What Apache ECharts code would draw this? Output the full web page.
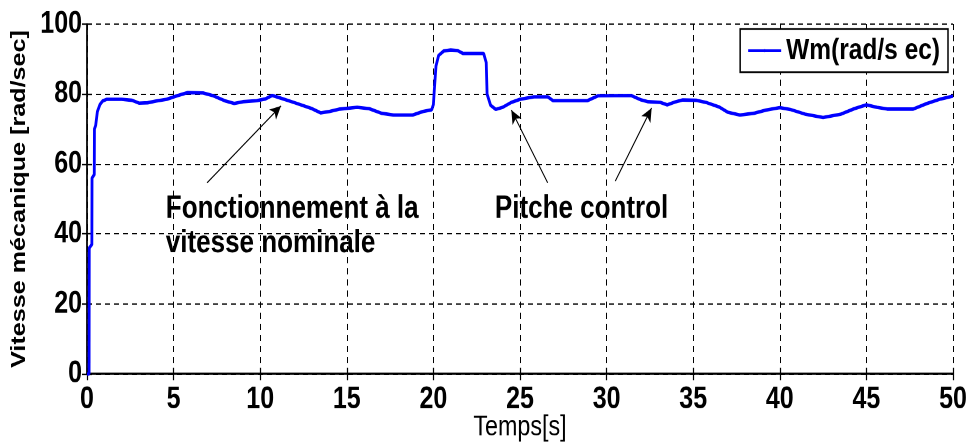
<!DOCTYPE html>
<html>
<head>
<meta charset="utf-8">
<script src="https://cdn.jsdelivr.net/npm/echarts@6/dist/echarts.min.js"></script>
<style>
  html, body { margin: 0; padding: 0; background: #fff; }
  #wrap { width: 972px; height: 444px; overflow: hidden; background: #fff; }
  /* the figure is laid out at 972x360 and stretched to the full 444px height */
  #chart { width: 972px; height: 360px; transform: scaleY(1.233333); transform-origin: 0 0; }
</style>
</head>
<body>
<div id="wrap"><div id="chart"></div></div>
<script>
// Mechanical speed of the turbine shaft over time
const timeS = [0, 0.12, 0.13, 0.28, 0.29, 0.42, 0.43, 0.5, 0.6, 0.75, 0.9, 1.15, 2.0, 2.6, 3.0, 3.5, 4.0, 4.6, 5.2, 5.8,
  6.7, 7.3, 8.0, 8.5, 9.0, 9.8, 10.3, 10.7, 11.2, 12.0, 13.0, 13.5, 14.0, 14.6, 15.6, 16.3, 17.0, 17.7, 18.8, 19.4,
  19.9, 20.0, 20.05, 20.15, 20.3, 20.6, 21.0, 21.4, 21.7, 22.9, 23.05, 23.1, 23.3, 23.6, 24.0, 24.5, 25.0, 25.8, 26.6, 26.9,
  28.9, 29.5, 31.4, 32.0, 32.4, 33.1, 33.5, 34.0, 34.4, 35.2, 35.8, 36.5, 37.0, 37.7, 38.5, 39.2, 40.0, 40.6, 41.5, 42.5,
  43.5, 44.3, 45.0, 45.6, 46.2, 47.7, 48.5, 49.3, 50.0];
const speedWm = [0, 0, 36, 37, 56, 57, 70, 71, 75, 77, 78, 78.5, 78.5, 78.2, 77.4, 77.5, 78.0, 78.5, 79.5, 80.4,
  80.3, 79.5, 78.0, 77.3, 77.8, 78.1, 78.6, 79.6, 78.8, 77.5, 75.8, 74.6, 75.0, 75.7, 76.2, 75.8, 74.5, 74.0, 74.0, 75.0,
  75.5, 77, 81, 88, 91, 92.3, 92.6, 92.4, 91.6, 91.6, 89, 80, 76.8, 75.6, 76.2, 77.6, 78.5, 79.2, 79.2, 78.1,
  78.1, 79.5, 79.6, 78.3, 77.8, 77.6, 76.9, 77.8, 78.3, 78.2, 77.5, 76.3, 74.8, 74.0, 74.5, 75.4, 76.1, 75.6, 74.2, 73.3,
  74.2, 75.8, 76.9, 76.2, 75.7, 75.7, 77.3, 78.6, 79.4];

const xTicks = { min: 0, max: 50, interval: 5 };
const yTicks = { min: 0, max: 100, interval: 20 };

// Annotation arrows: [tail, head] in (time, speed)
const arrowNominal = [[6.93, 54.6], [11.2, 76.6]];
const arrowPitchA = [[26.6, 54.6], [24.5, 75.4]];
const arrowPitchB = [[30.5, 55.1], [32.6, 76.0]];

// Annotation texts, anchored at their top-left corner (time, speed)
const noteNominal = { text: 'Fonctionnement à la\nvitesse nominale', at: [4.55, 52.2] };
const notePitch = { text: 'Pitche control', at: [23.55, 52.2] };

const seriesName = 'Wm(rad/s ec)';
const sans = "'Liberation Sans', Arial, Helvetica, sans-serif";

const chart = echarts.init(document.getElementById('chart'), null, { renderer: 'canvas', devicePixelRatio: 2 });

const dashed = { show: true, lineStyle: { color: '#000', width: 1, type: [5, 4] } };
const frame = { show: true, lineStyle: { color: '#000', width: 1.5 } };
const inTick = { show: true, inside: true, length: 5, lineStyle: { color: '#000', width: 1.2 } };

function arrowLine(pair) {
  return [{ coord: pair[0], symbol: 'none' }, { coord: pair[1], symbol: 'arrow', symbolSize: [8, 11] }];
}

chart.setOption({
  animation: false,
  backgroundColor: '#fff',
  grid: { left: 87, right: 19, top: 19.46, bottom: 56.76, containLabel: false, outerBoundsMode: 'none' },
  legend: {
    data: [seriesName],
    right: 24,
    top: 23.5,
    padding: [5, 8, 5, 7],
    itemWidth: 33,
    itemHeight: 3,
    backgroundColor: '#fff',
    borderColor: '#000',
    borderWidth: 1.5,
    borderRadius: 0,
    textStyle: { fontFamily: sans, fontWeight: 'bold', fontSize: 24.5, color: '#000' }
  },
  xAxis: [
    {
      type: 'value', min: xTicks.min, max: xTicks.max, interval: xTicks.interval,
      name: 'Temps[s]', nameLocation: 'middle', nameGap: 32, nameMoveOverlap: false,
      nameTextStyle: { fontFamily: sans, fontSize: 23.3, color: '#000' },
      axisLine: frame, axisTick: inTick, splitLine: dashed,
      axisLabel: { fontFamily: sans, fontWeight: 'bold', fontSize: 25, color: '#000', margin: 8.5 }
    },
    {
      type: 'value', position: 'top', min: xTicks.min, max: xTicks.max, interval: xTicks.interval,
      axisLine: frame, axisTick: inTick, splitLine: { show: false }, axisLabel: { show: false }
    }
  ],
  yAxis: [
    {
      type: 'value', min: yTicks.min, max: yTicks.max, interval: yTicks.interval,
      name: 'Vitesse mécanique [rad/sec]', nameLocation: 'middle', nameGap: 54,
      nameTextStyle: { fontFamily: sans, fontWeight: 'bold', fontSize: 20.4, color: '#000' },
      axisLine: frame, axisTick: inTick, splitLine: dashed,
      axisLabel: { fontFamily: sans, fontWeight: 'bold', fontSize: 25, color: '#000', margin: 5 }
    },
    {
      type: 'value', position: 'right', min: yTicks.min, max: yTicks.max, interval: yTicks.interval,
      axisLine: frame, axisTick: inTick, splitLine: { show: false }, axisLabel: { show: false }
    }
  ],
  series: [
    {
      name: seriesName,
      type: 'line',
      data: timeS.map((t, i) => [t, speedWm[i]]),
      showSymbol: false,
      symbol: 'none',
      lineStyle: { color: '#0000ff', width: 2.8 },
      itemStyle: { color: '#0000ff' },
      z: 5,
      markLine: {
        silent: true,
        animation: false,
        label: { show: false },
        lineStyle: { color: '#000', width: 1, type: 'solid' },
        data: [arrowLine(arrowNominal), arrowLine(arrowPitchA), arrowLine(arrowPitchB)]
      }
    }
  ]
});

// Place the annotation texts through the axis scales
function noteGraphic(n) {
  const p = chart.convertToPixel({ seriesIndex: 0 }, n.at);
  return {
    type: 'text',
    x: p[0],
    y: p[1],
    z: 10,
    style: {
      text: n.text,
      align: 'left',
      verticalAlign: 'top',
      fontFamily: sans,
      fontWeight: 'bold',
      fontSize: 26,
      lineHeight: 28,
      fill: '#000'
    }
  };
}

chart.setOption({ graphic: [noteGraphic(noteNominal), noteGraphic(notePitch)] });
</script>
</body>
</html>
